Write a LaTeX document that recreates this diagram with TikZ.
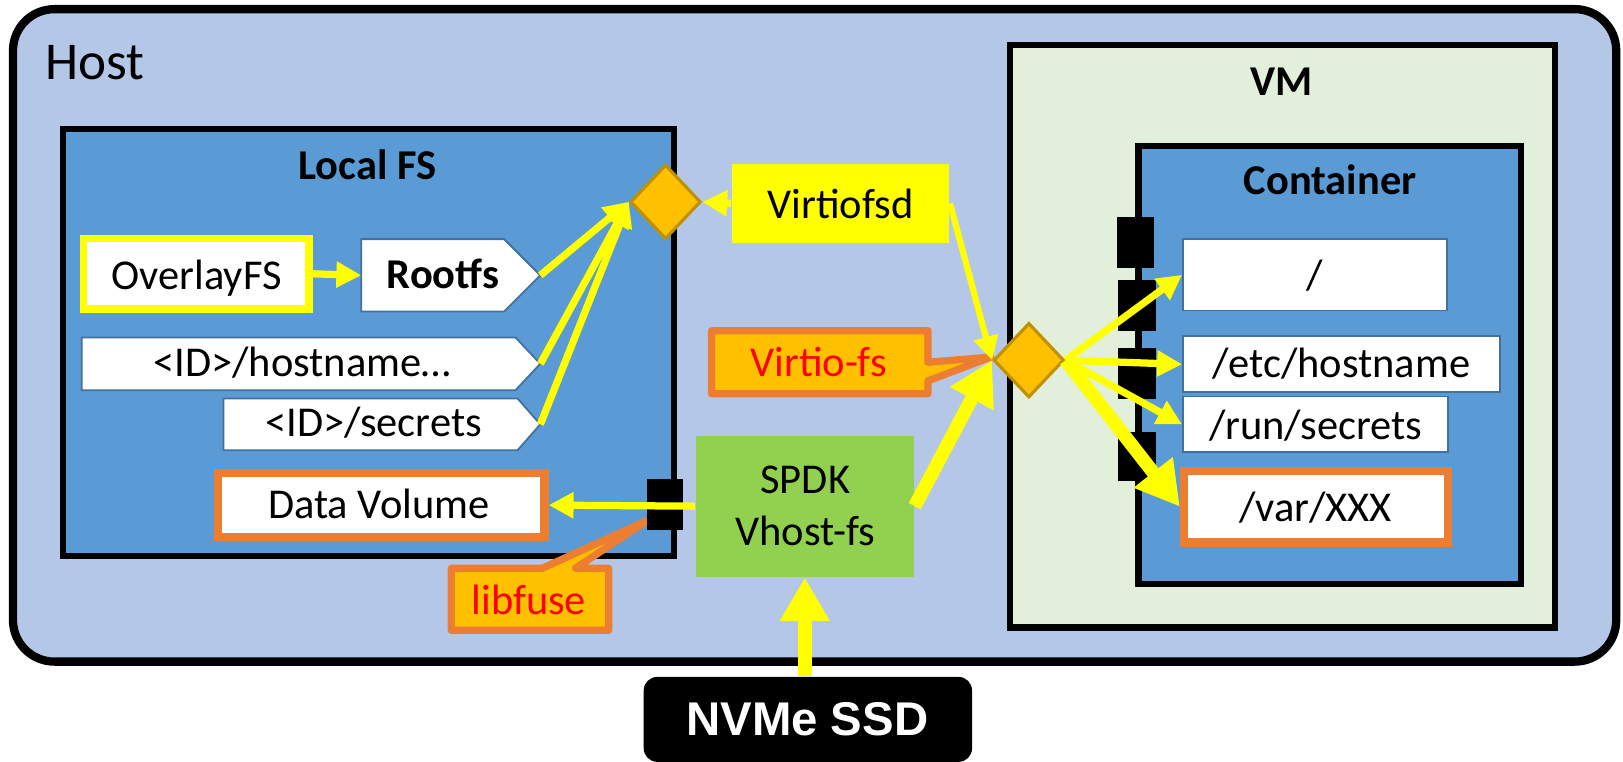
\documentclass[tikz,border=0pt]{standalone}
\usepackage{fontspec}
\setmainfont{Carlito}
\newfontfamily\nvmefont{Liberation Sans}
\usetikzlibrary{arrows.meta,shapes.geometric}
\definecolor{hostfill}{HTML}{B4C7E7}
\definecolor{fsblue}{HTML}{5B9BD5}
\definecolor{vmgreen}{HTML}{E2EFDA}
\definecolor{edgeblue}{HTML}{41719C}
\definecolor{gold}{HTML}{FFC000}
\definecolor{darkgold}{HTML}{BF9000}
\definecolor{orng}{HTML}{ED7D31}
\definecolor{yel}{HTML}{FFFF00}
\definecolor{spdkgreen}{HTML}{92D050}
\definecolor{redtxt}{HTML}{FF0000}
\tikzset{
  box/.style={rectangle, inner sep=0pt},
  blackframe/.style={box, draw=black, line width=0.06cm},
  whitebox/.style={box, fill=white, draw=edgeblue, line width=0.5pt},
  orangebox/.style={box, fill=white, draw=orng, line width=0.08cm},
  port/.style={box, fill=black},
  dia/.style={diamond, inner sep=0pt, fill=gold, draw=darkgold, line width=0.03cm, minimum width=0.68cm, minimum height=0.72cm},
  lbl/.style={inner sep=0pt, anchor=base, font=\fontsize{11.67}{14}\selectfont},
  blbl/.style={inner sep=0pt, anchor=base, font=\fontsize{11.67}{14}\selectfont\bfseries},
  pent/.style={fill=white, draw=edgeblue, line width=0.5pt},
  callout/.style={fill=gold, draw=orng, line width=0.07cm, line join=round},
  yarr/.style={draw=yel, line width=0.07cm, -{Triangle[width=0.24cm,length=0.24cm]}},
  yarrthin/.style={draw=yel, line width=0.06cm, -{Triangle[width=0.23cm,length=0.23cm]}},
  yarrthick/.style={draw=yel, line width=0.13cm, -{Triangle[width=0.45cm,length=0.42cm]}},
}
\begin{document}
\begin{tikzpicture}[x=0.01cm,y=-0.01cm]
\useasboundingbox (0,0) rectangle (1568,736);

% Host
\node[box, draw=black, fill=hostfill, line width=0.08cm, rounded corners=0.4cm,
      minimum width=15.48cm, minimum height=6.30cm] (host) at (787,324) {};
\node[inner sep=0pt, anchor=base west, font=\fontsize{14.6}{17}\selectfont] (hostlbl) at (43,77) {Host};

% Local FS
\node[blackframe, fill=fsblue, minimum width=5.90cm, minimum height=4.12cm] (localfs) at (356,331) {};
\node[blbl] (localfslbl) at (355,173) {Local FS};

% VM and container
\node[blackframe, fill=vmgreen, minimum width=5.26cm, minimum height=5.62cm] (vm) at (1239,325) {};
\node[blbl] (vmlbl) at (1238,92) {VM};
\node[blackframe, fill=fsblue, minimum width=3.69cm, minimum height=4.23cm] (container) at (1284.5,352.5) {};
\node[blbl] (containerlbl) at (1285,188) {Container};

% container ports
\node[port, minimum width=0.36cm, minimum height=0.49cm] (p1) at (1097,234.5) {};
\node[port, minimum width=0.37cm, minimum height=0.49cm] (p2) at (1098.5,295.5) {};
\node[port, minimum width=0.37cm, minimum height=0.49cm] (p3) at (1098.5,360.5) {};
\node[port, minimum width=0.37cm, minimum height=0.48cm] (p4) at (1098.5,441) {};

% container entries
\node[whitebox, minimum width=2.55cm, minimum height=0.69cm] (root) at (1270.5,265.5) {};
\node[lbl] (rootlbl) at (1270,280) {/};
\node[whitebox, minimum width=3.06cm, minimum height=0.54cm] (etc) at (1296,352) {};
\node[lbl] (etclbl) at (1296,365) {/etc/hostname};
\node[whitebox, minimum width=2.56cm, minimum height=0.54cm] (run) at (1271,410) {};
\node[lbl] (runlbl) at (1271,425) {/run/secrets};
\node[orangebox, minimum width=2.55cm, minimum height=0.69cm] (var) at (1271.5,489.5) {};
\node[lbl] (varlbl) at (1271,504) {/var/XXX};

% Local FS contents
\node[box, fill=white, draw=yel, line width=0.07cm, minimum width=2.18cm, minimum height=0.68cm] (overlay) at (189.5,264.5) {};
\node[lbl] (overlaylbl) at (190,280) {OverlayFS};

\path[pent] (349,231) -- (487,231) -- (522,266) -- (487,301) -- (349,301) -- cycle;
\coordinate (rootfsW) at (349,266);
\coordinate (rootfsTip) at (522,266);
\node[blbl] (rootfslbl) at (428,279) {Rootfs};

\path[pent] (79,326) -- (498,326) -- (522,351.5) -- (498,377) -- (79,377) -- cycle;
\coordinate (hostnameTip) at (522,351.5);
\node[lbl] (hostnamelbl) at (292,364) {<ID>/hostname…};

\path[pent] (216,385) -- (500,385) -- (522,410) -- (500,435) -- (216,435) -- cycle;
\coordinate (secretsTip) at (522,410);
\node[lbl] (secretslbl) at (361,422) {<ID>/secrets};

\node[orangebox, minimum width=3.15cm, minimum height=0.62cm] (dv) at (368.5,488) {};
\node[lbl] (dvlbl) at (366,501) {Data Volume};

% libfuse callout
\path[callout] (436,549) -- (524,549) -- (625,503) -- (556,549) -- (588,549) -- (588,609) -- (436,609) -- cycle;
\node[lbl, text=redtxt] (libfuse) at (511,594) {libfuse};
\node[port, minimum width=0.35cm, minimum height=0.49cm] (lport) at (642.5,487.5) {};

% Virtio-fs callout
\path[callout] (687.5,319.5) -- (896.5,319.5) -- (896.5,350) -- (957,345) -- (896.5,368) -- (896.5,380.5) -- (687.5,380.5) -- cycle;
\node[lbl, text=redtxt] (virtiofs) at (791,364) {Virtio-fs};

% Virtiofsd, SPDK, NVMe
\node[box, fill=yel, minimum width=2.10cm, minimum height=0.77cm] (virtiofsd) at (812,196.5) {};
\node[lbl] (virtiofsdlbl) at (812,211) {Virtiofsd};
\node[box, fill=spdkgreen, minimum width=2.11cm, minimum height=1.36cm] (spdk) at (777.5,489) {};
\node[inner sep=0pt, align=center, font=\fontsize{11.67}{14.2}\selectfont] (spdklbl) at (778,489) {SPDK\\Vhost-fs};
\node[box, fill=black, rounded corners=0.13cm, minimum width=3.17cm, minimum height=0.82cm] (nvme) at (780.5,695) {};
\node[inner sep=0pt, anchor=base, text=white, font=\nvmefont\fontsize{13}{15}\selectfont\bfseries] (nvmelbl) at (780,711) {NVMe SSD};

% Diamonds
\node[dia] (ldia) at (643,195) {};
\node[dia] (rdia) at (994,348) {};

% Arrows
\draw[yarr] (overlay.east) -- (rootfsW);
\draw[yarr] (rootfsTip) -- (ldia.west);
\draw[yarr] (hostnameTip) -- (ldia.west);
\draw[yarr] (secretsTip) -- (ldia.west);
\draw[yarr] (virtiofsd.west) -- (ldia.east);
\draw[yarrthin] (virtiofsd.east) -- (rdia.west);
\draw[yarrthick] (spdk.east) -- (rdia.west);
\draw[yarr] (spdk.west) -- (dv.east);
\draw[yarrthick] (spdk.south |- nvme.north) -- (spdk.south);
\draw[yarr] (rdia.east) -- (root.west);
\draw[yarr] (rdia.east) -- (etc.west);
\draw[yarr] (rdia.east) -- (run.west);
\draw[yarrthick] (rdia.east) -- (var.west);
\end{tikzpicture}
\end{document}
